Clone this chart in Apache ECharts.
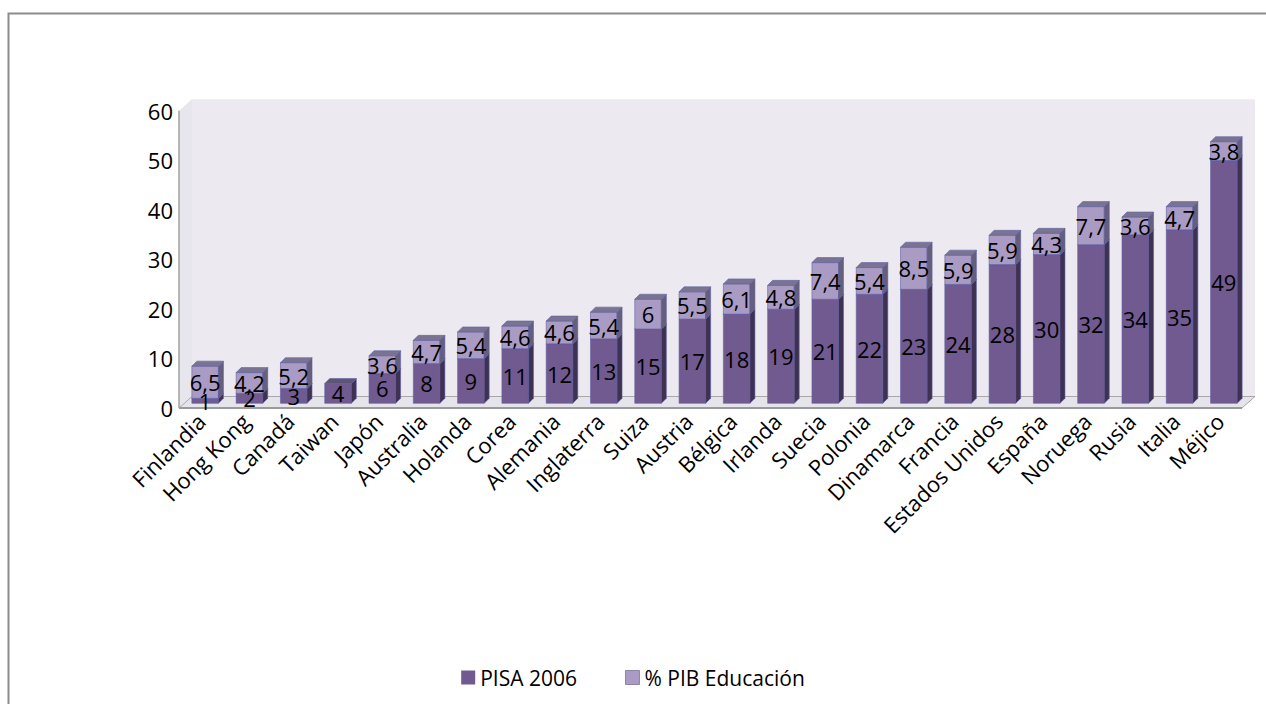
<!DOCTYPE html>
<html>
<head>
<meta charset="utf-8">
<script src="https://cdn.jsdelivr.net/npm/echarts@6/dist/echarts.min.js"></script>
<style>
html,body{margin:0;padding:0;background:#fff;}
#chart{width:1266px;height:704px;}
</style>
</head>
<body>
<div id="chart"></div>
<script>
const categories = ['Finlandia','Hong Kong','Canadá','Taiwan','Japón','Australia','Holanda','Corea','Alemania','Inglaterra','Suiza','Austria','Bélgica','Irlanda','Suecia','Polonia','Dinamarca','Francia','Estados Unidos','España','Noruega','Rusia','Italia','Méjico'];
const pisa2006 = [1,2,3,4,6,8,9,11,12,13,15,17,18,19,21,22,23,24,28,30,32,34,35,49];
const pibEducacion = [6.5,4.2,5.2,null,3.6,4.7,5.4,4.6,4.6,5.4,6,5.5,6.1,4.8,7.4,5.4,8.5,5.9,5.9,4.3,7.7,3.6,4.7,3.8];
const yTicks = {min:0, max:60, interval:10};
const seriesNames = ['PISA 2006','% PIB Educación'];

const FONT = '"Open Sans", "DejaVu Sans", sans-serif';
const DX = 4, DY = -4.7, SD = 5, ST = 5;   // bar depth offsets
const BX = 13, BY = -11.5;                 // back wall offsets

const darkC = {front:'#715A90', side:'#3F3152', top:'#5F5577'};
const lightC = {front:'#A99BC3', side:'#655E7C', top:'#7A7492'};
const edge = 'rgba(95,95,165,0.75)';

function fmt(v){ return String(v).replace('.', ','); }

const pisaData = categories.map((c,i)=>[i, 0, pisa2006[i]]);
const pibData = categories.map((c,i)=>[i, pisa2006[i], pibEducacion[i]==null ? null : pisa2006[i]+pibEducacion[i]]);
const labelData = [];
categories.forEach((c,i)=>{
  labelData.push([i, 0, pisa2006[i], fmt(pisa2006[i])]);
  if (pibEducacion[i] != null) labelData.push([i, pisa2006[i], pisa2006[i]+pibEducacion[i], fmt(pibEducacion[i])]);
});

function barRenderer(col){
  return function(params, api){
    const i = api.value(0), b = api.value(1), t = api.value(2);
    if (t == null || isNaN(t)) return null;
    const p0 = api.coord([i,b]), p1 = api.coord([i,t]);
    const w = api.size([1,0])[0]*0.6;
    const x0 = p0[0]-w/2+DX, x1 = x0+w, yb = p0[1]+DY, yt = p1[1]+DY;
    return {type:'group', children:[
      {type:'rect', shape:{x:x0,y:yt,width:w,height:yb-yt}, style:{fill:col.front, stroke:edge, lineWidth:0.8}},
      {type:'polygon', shape:{points:[[x1,yb],[x1+SD,yb-ST],[x1+SD,yt-ST],[x1,yt]]}, style:{fill:col.side, stroke:edge, lineWidth:0.8}},
      {type:'polygon', shape:{points:[[x0,yt],[x1,yt],[x1+SD,yt-ST],[x0+SD,yt-ST]]}, style:{fill:col.top, stroke:edge, lineWidth:0.8}}
    ]};
  };
}

const chart = echarts.init(document.getElementById('chart'), null, {renderer:'svg'});
chart.setOption({
  backgroundColor:'#ffffff',
  animation:false,
  textStyle:{fontFamily:FONT},
  graphic:[{type:'rect', shape:{x:8.5,y:13.5,width:1270,height:700}, style:{fill:'none', stroke:'#8C8C8C', lineWidth:2}, silent:true, z:-10}],
  grid:{left:179, right:24, top:110.7, bottom:296},
  legend:{
    data:[{name:seriesNames[0], itemStyle:{color:darkC.front}}, {name:seriesNames[1], itemStyle:{color:lightC.front, borderColor:'#8E84A8', borderWidth:1}}],
    top:662, left:'center', icon:'rect', itemWidth:14, itemHeight:14, itemGap:48,
    textStyle:{fontSize:21, color:'#000', fontFamily:FONT}
  },
  xAxis:{
    type:'category', data:categories,
    axisLine:{show:false}, axisTick:{show:false},
    axisLabel:{interval:0, rotate:45, fontSize:22, color:'#000', margin:9, fontFamily:FONT}
  },
  yAxis:{
    type:'value', min:yTicks.min, max:yTicks.max, interval:yTicks.interval,
    axisLine:{show:false}, axisTick:{show:false}, splitLine:{show:false},
    axisLabel:{fontSize:22, color:'#000', margin:6, fontFamily:FONT}
  },
  series:[
    {
      type:'custom', name:'wall', z:0, silent:true,
      data:[[0,0]],
      encode:{x:0, y:1},
      renderItem:function(params, api){
        const cs = params.coordSys;
        const x = cs.x, y = cs.y, w = cs.width, h = cs.height;
        return {type:'group', children:[
          {type:'rect', shape:{x:x+BX, y:y+BY, width:w, height:h}, style:{fill:'#ECEAF0'}},
          {type:'polygon', shape:{points:[[x,y],[x+BX,y+BY],[x+BX,y+h+BY],[x,y+h]]}, style:{fill:'#E8E6ED'}},
          {type:'polygon', shape:{points:[[x,y+h],[x+w,y+h],[x+w+BX,y+h+BY],[x+BX,y+h+BY]]}, style:{fill:'#E6E4EB', stroke:'#A8A8A8', lineWidth:1}},
          {type:'line', shape:{x1:x, y1:y+h, x2:x+w, y2:y+h}, style:{stroke:'#9A9A9A', lineWidth:2}},
          {type:'line', shape:{x1:x, y1:y, x2:x, y2:y+h}, style:{stroke:'#A0A0A0', lineWidth:1.5}}
        ]};
      }
    },
    {
      type:'custom', name:seriesNames[0], z:2, data:pisaData,
      itemStyle:{color:darkC.front},
      encode:{x:0, y:[1,2]},
      renderItem:barRenderer(darkC)
    },
    {
      type:'custom', name:seriesNames[1], z:3, data:pibData,
      itemStyle:{color:lightC.front},
      encode:{x:0, y:[1,2]},
      renderItem:barRenderer(lightC)
    },
    {
      type:'custom', name:'labels', z:5, silent:true, data:labelData,
      encode:{x:0, y:[1,2]},
      renderItem:function(params, api){
        const i = api.value(0), b = api.value(1), t = api.value(2);
        const txt = labelData[params.dataIndex][3];
        const pc = api.coord([i,(b+t)/2]);
        return {type:'text', x:pc[0]+DX, y:pc[1]+DY, style:{text:txt, fill:'#000', font:'22px '+FONT, align:'center', verticalAlign:'middle'}};
      }
    }
  ]
});
</script>
</body>
</html>
